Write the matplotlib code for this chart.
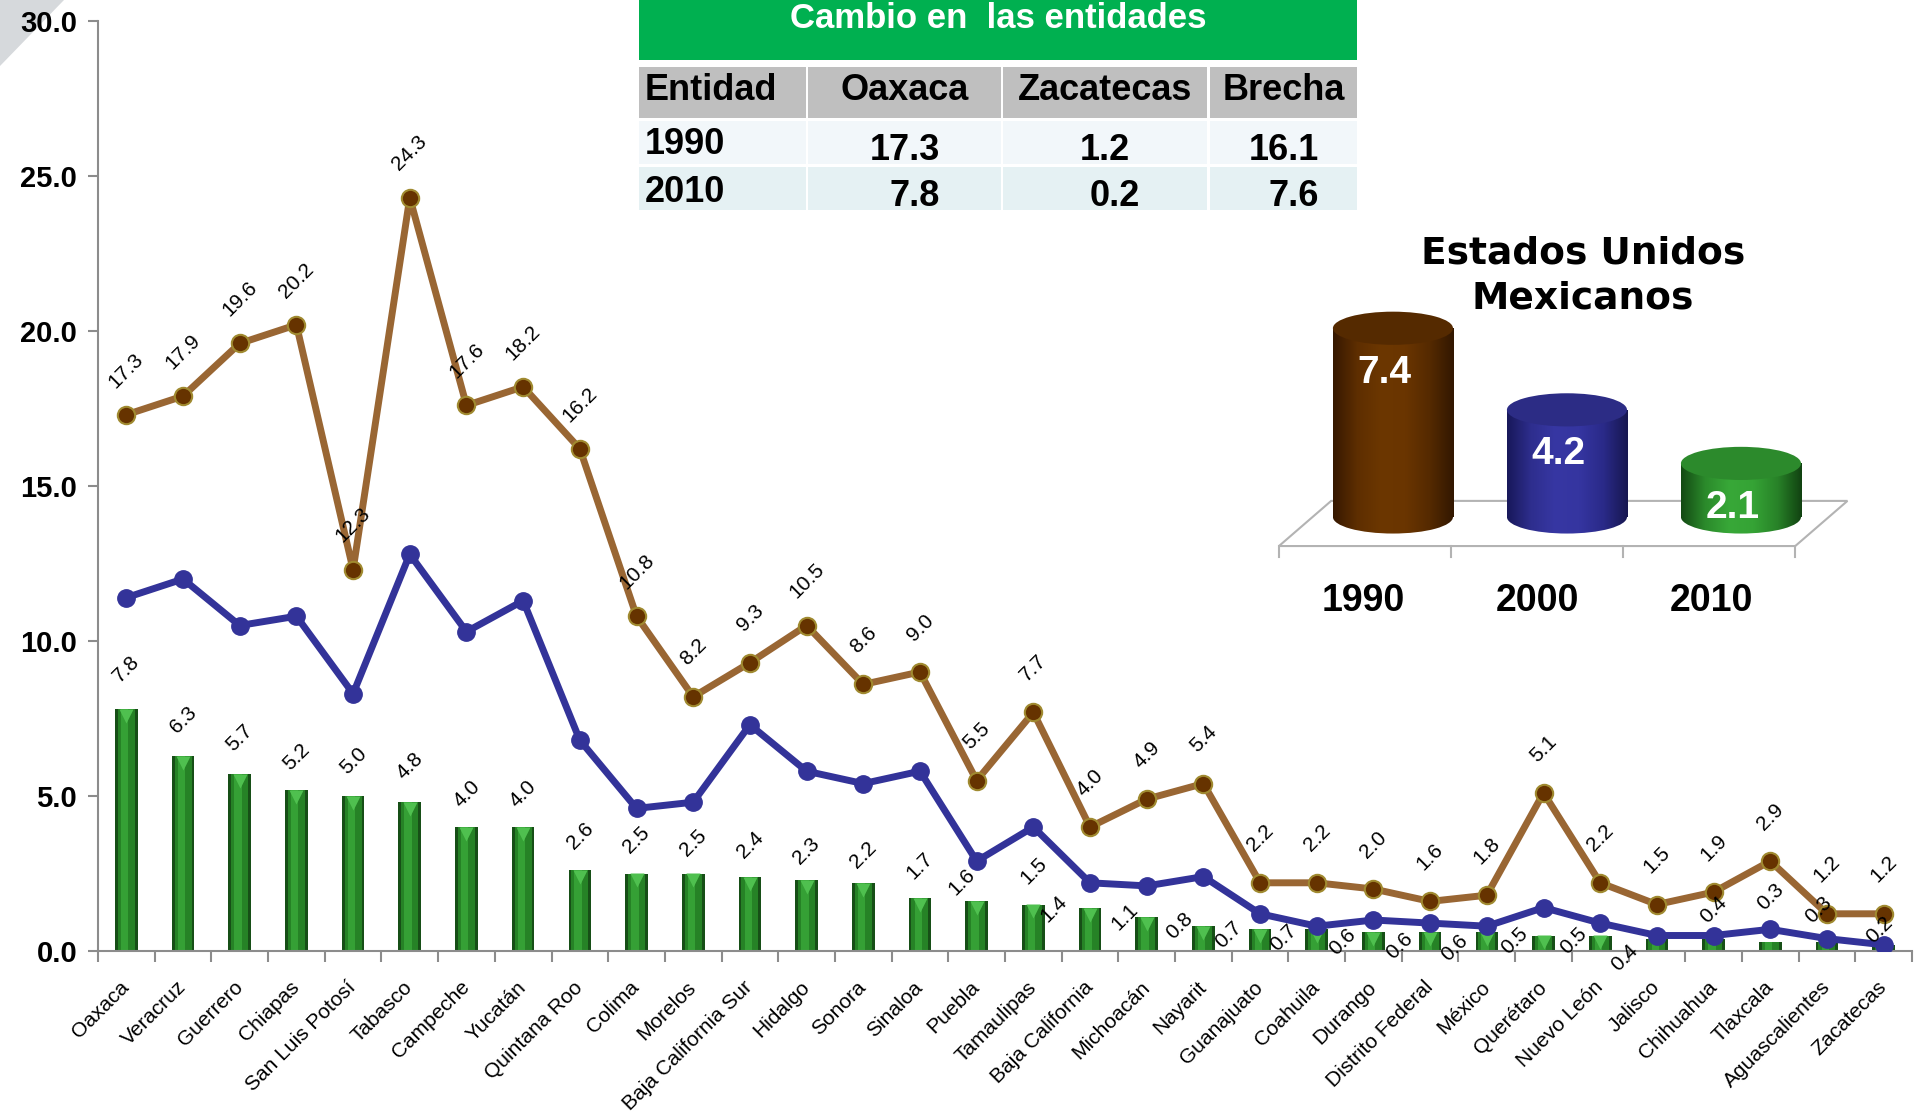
import numpy as np
import matplotlib
matplotlib.use("Agg")
import matplotlib.pyplot as plt
from matplotlib.patches import Rectangle, Ellipse, Polygon
from matplotlib.colors import LinearSegmentedColormap
from matplotlib.transforms import offset_copy

plt.rcParams['font.family'] = ['Liberation Sans', 'DejaVu Sans']

# ---- data -------------------------------------------------------------
entidades = ["Oaxaca", "Veracruz", "Guerrero", "Chiapas", "San Luis Potosí",
             "Tabasco", "Campeche", "Yucatán", "Quintana Roo", "Colima",
             "Morelos", "Baja California Sur", "Hidalgo", "Sonora", "Sinaloa",
             "Puebla", "Tamaulipas", "Baja California", "Michoacán", "Nayarit",
             "Guanajuato", "Coahuila", "Durango", "Distrito Federal", "México",
             "Querétaro", "Nuevo León", "Jalisco", "Chihuahua", "Tlaxcala",
             "Aguascalientes", "Zacatecas"]
v1990 = [17.3, 17.9, 19.6, 20.2, 12.3, 24.3, 17.6, 18.2, 16.2, 10.8,
         8.2, 9.3, 10.5, 8.6, 9.0, 5.5, 7.7, 4.0, 4.9, 5.4,
         2.2, 2.2, 2.0, 1.6, 1.8, 5.1, 2.2, 1.5, 1.9, 2.9,
         1.2, 1.2]
v2000 = [11.4, 12.0, 10.5, 10.8, 8.3, 12.8, 10.3, 11.3, 6.8, 4.6,
         4.8, 7.3, 5.8, 5.4, 5.8, 2.9, 4.0, 2.2, 2.1, 2.4,
         1.2, 0.8, 1.0, 0.9, 0.8, 1.4, 0.9, 0.5, 0.5, 0.7,
         0.4, 0.2]
v2010 = [7.8, 6.3, 5.7, 5.2, 5.0, 4.8, 4.0, 4.0, 2.6, 2.5,
         2.5, 2.4, 2.3, 2.2, 1.7, 1.6, 1.5, 1.4, 1.1, 0.8,
         0.7, 0.7, 0.6, 0.6, 0.6, 0.5, 0.5, 0.4, 0.4, 0.3,
         0.3, 0.2]

# where the 2010 value labels sit relative to the bar top (points)
bar_lbl_dx = [0, 0, 0, 0, 0, 0, 0, 0, 0, 0,
              0, 0, 0, 0, 0, -11, 0, -26, -16, -17,
              -23, -24, -22, -22, -23, -21, -19, -23, 0, 0,
              -6, -3]
bar_lbl_dy = [29, 26, 26, 24, 25, 26, 24, 24, 25, 24,
              22, 23, 21, 20, 23, 14, 24, -1, 0, 0,
              -4, -6, -7, -10, -11, -4, -4, -14, 21, 32,
              23, 11]

tabla_titulo = "Cambio en  las entidades"
tabla_cols = ["Entidad", "Oaxaca", "Zacatecas", "Brecha"]
tabla_anios = ["1990", "2010"]
tabla_oaxaca = [17.3, 7.8]
tabla_zacatecas = [1.2, 0.2]
tabla_brecha = [16.1, 7.6]

nac_titulo = "Estados Unidos\nMexicanos"
nac_anios = ["1990", "2000", "2010"]
nac_vals = [7.4, 4.2, 2.1]

# ---- figure -----------------------------------------------------------
W, H = 1915, 1114
fig = plt.figure(figsize=(W / 100, H / 100), dpi=100)

# overlay in pixel coords for the decorations / table
ov = fig.add_axes([0, 0, 1, 1])
ov.set_xlim(0, W)
ov.set_ylim(H, 0)
ov.axis("off")
ov.add_patch(Polygon([(0, 0), (64, 0), (0, 66)], closed=True,
                     color="#D6D9DC", lw=0))

# ---- main chart -------------------------------------------------------
ax = fig.add_axes([98 / W, 1 - 951 / H, 1814 / W, 930 / H])
ax.patch.set_alpha(0)
x = np.arange(len(entidades))

ax.bar(x, v2010, width=0.40, color="#174f17", zorder=2)
ax.bar(x, v2010, width=0.30, color="#268226", zorder=2)
ax.bar(x - 0.03, v2010, width=0.13, color="#35a035", zorder=2)
big = np.array(v2010) >= 0.5
tri = offset_copy(ax.transData, fig=fig, y=-5, units="points")
ax.plot(x[big], np.array(v2010)[big], "v", ms=10, color="#4fc04f",
        mec="none", transform=tri, zorder=2)

ax.plot(x, v2000, color="#333399", lw=5, marker="o", ms=12.5,
        mfc="#333399", mec="#333399", zorder=3)
ax.plot(x, v1990, color="#996633", lw=5, marker="o", ms=12.5,
        mfc="#663300", mec="#a08a30", mew=1.5, zorder=4)

for xi, v in zip(x, v1990):
    ax.annotate(f"{v:.1f}", (xi, v), xytext=(0, 32), textcoords="offset points",
                rotation=45, ha="center", va="center", fontsize=15, zorder=6)
for xi, v, dx, dy in zip(x, v2010, bar_lbl_dx, bar_lbl_dy):
    ax.annotate(f"{v:.1f}", (xi, v), xytext=(dx, dy), textcoords="offset points",
                rotation=45, ha="center", va="center", fontsize=15, zorder=6)

ax.set_xlim(-0.5, len(entidades) - 0.5)
ax.set_ylim(0, 30)
for s in ("top", "right"):
    ax.spines[s].set_visible(False)
for s in ("left", "bottom"):
    ax.spines[s].set_color("#8c8c8c")
    ax.spines[s].set_linewidth(1.5)

ax.set_yticks(np.arange(0, 31, 5))
ax.set_yticklabels([f"{t:.1f}" for t in np.arange(0, 31, 5)],
                   fontsize=21, fontweight="bold")
ax.tick_params(axis="y", length=7, width=1.5, color="#8c8c8c", pad=8)

ax.set_xticks(x)
ax.set_xticklabels(entidades, fontsize=15)
ax.set_xticks(np.arange(-0.5, len(entidades), 1), minor=True)
ax.tick_params(axis="x", which="major", length=0, pad=24)
ax.tick_params(axis="x", which="minor", length=8, width=1.5, color="#8c8c8c")
for lab in ax.get_xticklabels():
    lab.set(rotation=45, ha="right", va="center", rotation_mode="anchor")

# ---- table ------------------------------------------------------------
ov.add_patch(Rectangle((639, 0), 718, 60, color="#00B050", lw=0))
ov.text(998, 18, tabla_titulo, color="white", fontsize=25, fontweight="bold",
        ha="center", va="center")

col_edges = [(639, 806), (808, 1001), (1003, 1207), (1210, 1357)]
row_spans = [(67, 118, "#BFBFBF"), (121, 164, "#F2F7FA"), (167, 210, "#E5F1F3")]
for (y0, y1, c) in row_spans:
    for (x0, x1) in col_edges:
        ov.add_patch(Rectangle((x0, y0), x1 - x0, y1 - y0, color=c, lw=0))

ov.text(645, 90, tabla_cols[0], fontsize=26, fontweight="bold",
        ha="left", va="center")
for (x0, x1), name in zip(col_edges[1:], tabla_cols[1:]):
    ov.text((x0 + x1) / 2, 90, name, fontsize=26, fontweight="bold",
            ha="center", va="center")

row_y = [148, 195]
val_dx = [0, 10]
for i, anio in enumerate(tabla_anios):
    ov.text(645, row_y[i] - 3, anio, fontsize=26, fontweight="bold",
            ha="left", va="center")
    for (x0, x1), vals in zip(col_edges[1:], (tabla_oaxaca, tabla_zacatecas, tabla_brecha)):
        ov.text((x0 + x1) / 2 + val_dx[i], row_y[i] + 2, f"{vals[i]:.1f}",
                fontsize=26, fontweight="bold", ha="center", va="center")

# ---- national cylinders -----------------------------------------------
ax2 = fig.add_axes([1260 / W, 1 - 620 / H, 620 / W, 380 / H])
ax2.axis("off")

cyl_maps = [
    ["#361800", "#5e2e00", "#6c3700", "#6a3500", "#552a00", "#321700"],
    ["#18185a", "#2e2e8e", "#3737a3", "#3535a0", "#2a2a88", "#171750"],
    ["#134a13", "#2b8a2b", "#38a838", "#35a335", "#288228", "#114211"],
]
cyl_tops = ["#552a00", "#2c2c85", "#2c8a2c"]
cw, eh = 0.69, 1.3
grad = np.linspace(0, 1, 256).reshape(1, -1)

# floor
front_y, back_y, depth_dx = -1.14, 0.63, 0.30
edges_x = np.arange(len(nac_vals) + 1) * 0.989 - 0.655
ax2.add_patch(Polygon([(edges_x[0], front_y), (edges_x[-1], front_y),
                       (edges_x[-1] + depth_dx, back_y), (edges_x[0] + depth_dx, back_y)],
                      closed=True, facecolor="white", edgecolor="#b3b3b3", lw=1.5, zorder=1))
for ex in edges_x:
    ax2.plot([ex, ex], [front_y, front_y - 0.42], color="#b3b3b3", lw=1.5, zorder=1)

for i, (v, cols, top) in enumerate(zip(nac_vals, cyl_maps, cyl_tops)):
    cmap = LinearSegmentedColormap.from_list(f"c{i}", cols)
    for clip in (Rectangle((i - cw / 2, 0), cw, v), Ellipse((i, 0), cw, eh)):
        clip.set_transform(ax2.transData)
        im = ax2.imshow(grad, extent=[i - cw / 2, i + cw / 2, -eh / 2, v],
                        cmap=cmap, aspect="auto", zorder=2, interpolation="bilinear")
        im.set_clip_path(clip)
    ax2.add_patch(Ellipse((i, v), cw, eh, facecolor=top, edgecolor="none", zorder=3))
    ax2.annotate(f"{v:.1f}", (i - 0.05, v), xytext=(0, -32), textcoords="offset points",
                 color="white", fontsize=28, fontweight="bold",
                 ha="center", va="center", zorder=4)
    ax2.text(i - 0.17, -3.3, nac_anios[i], fontsize=27, fontweight="bold",
             ha="center", va="center")

ax2.set_xlim(-0.764, 2.799)
ax2.set_ylim(-4.04, 10.86)

ov.text(1583, 276, nac_titulo, fontsize=27, fontweight="bold", ha="center",
        va="center", linespacing=1.35, family=["DejaVu Sans"])

fig.savefig("out.png", dpi=100)
